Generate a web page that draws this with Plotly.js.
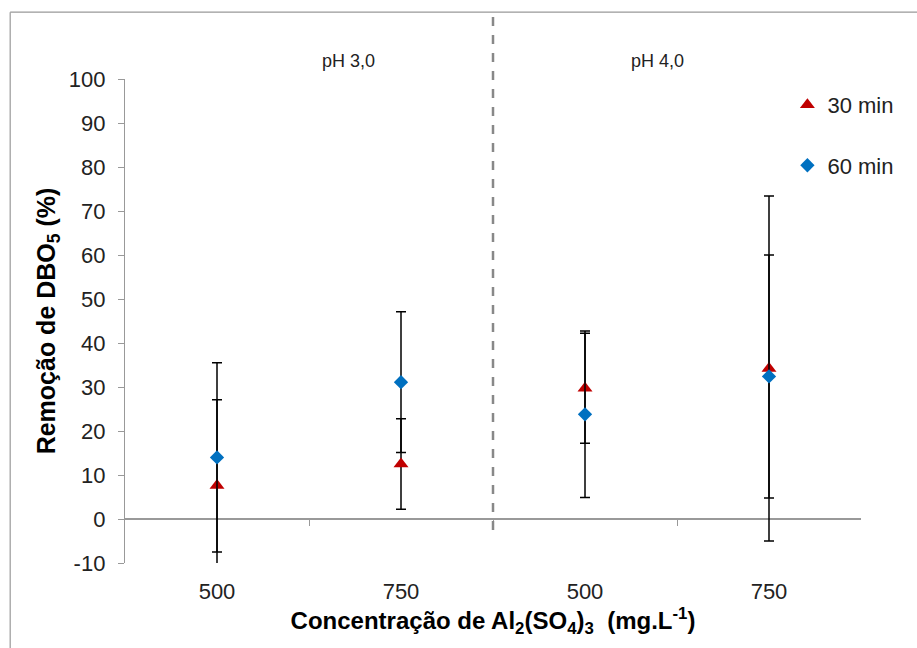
<!DOCTYPE html>
<html>
<head>
<meta charset="utf-8">
<script src="https://cdn.plot.ly/plotly-3.0.1.min.js"></script>
<style>html,body{margin:0;padding:0;background:#fff;}#chart{width:917px;height:648px;}</style>
</head>
<body>
<div id="chart"></div>
<script>
// Data
const positions = [0, 1, 2, 3];
const doseLabels = ["500", "750", "500", "750"];
const phLabels = ["pH 3,0", "pH 4,0"];

const min30 = [7.6, 12.5, 29.7, 34.2];
const min30ErrPlus = [19.5, 10.3, 12.5, 39.2];
const min30ErrMinus = [19.5, 10.3, 12.5, 39.2];

const min60 = [14.0, 31.1, 23.8, 32.4];
const min60ErrPlus = [21.5, 16.0, 18.9, 27.6];
const min60ErrMinus = [21.5, 16.0, 18.9, 27.6];

const yTicks = [-10, 0, 10, 20, 30, 40, 50, 60, 70, 80, 90, 100];
const yTickLabels = ["-10", "0", "10", "20", "30", "40", "50", "60", "70", "80", "90", "100"];

const FONT = "Liberation Sans, Arial, sans-serif";

const traces = [
  {
    x: positions, y: min30, name: "30 min", type: "scatter", mode: "markers",
    legendgroup: "a",
    marker: {symbol: "triangle-up", size: 13, color: "#C00000"},
    error_y: {type: "data", array: min30ErrPlus, arrayminus: min30ErrMinus, symmetric: false,
              color: "#000", thickness: 1.5, width: 5}
  },
  {
    x: positions, y: min60, name: "60 min", type: "scatter", mode: "markers",
    legendgroup: "b",
    marker: {symbol: "diamond", size: 11, color: "#0070C0"},
    error_y: {type: "data", array: min60ErrPlus, arrayminus: min60ErrMinus, symmetric: false,
              color: "#000", thickness: 1.5, width: 5}
  },
  {
    // invisible helper so boundary ticks axis is drawn
    x: [0.5, 1.5, 2.5], y: [null, null, null], xaxis: "x2", yaxis: "y",
    type: "scatter", mode: "markers", showlegend: false, hoverinfo: "skip"
  }
];

const layout = {
  width: 917, height: 648,
  margin: {l: 125, r: 56, t: 79, b: 85},
  paper_bgcolor: "#fff", plot_bgcolor: "#fff",
  font: {family: FONT, size: 22, color: "#222"},
  showlegend: true,
  legend: {
    x: 0.9, y: 0.99, xanchor: "left", yanchor: "top",
    font: {family: FONT, size: 22, color: "#222"},
    tracegroupgap: 29, itemwidth: 30, bgcolor: "rgba(0,0,0,0)"
  },
  xaxis: {
    range: [-0.5, 3.5], tickvals: positions, ticktext: doseLabels,
    showline: false, showgrid: false, zeroline: false,
    ticks: "", ticklabelstandoff: 13,
    tickfont: {family: FONT, size: 22, color: "#222"},
    title: {text: "<b>Concentração de Al<sub>2</sub>(SO<sub>4</sub>)<sub>3</sub>  (mg.L<sup>-1</sup>)</b>",
            font: {family: FONT, size: 24, color: "#000"}, standoff: 7}
  },
  xaxis2: {
    overlaying: "x", anchor: "free", position: 10/110, side: "bottom",
    range: [-0.5, 3.5], tickvals: [0.5, 1.5, 2.5], showticklabels: false,
    ticks: "outside", ticklen: 6, tickcolor: "#999", tickwidth: 1,
    showline: false, showgrid: false, zeroline: false
  },
  yaxis: {
    range: [-10, 100], tickvals: yTicks, ticktext: yTickLabels,
    showline: true, linecolor: "#999", linewidth: 1.2,
    ticks: "outside", ticklen: 6, tickcolor: "#999",
    ticklabelstandoff: 8,
    showgrid: false, zeroline: true, zerolinecolor: "#999", zerolinewidth: 1.5,
    tickfont: {family: FONT, size: 22, color: "#222"},
    title: {text: "<b>Remoção de DBO<sub>5</sub> (%)</b>",
            font: {family: FONT, size: 25, color: "#000"}, standoff: 6}
  },
  shapes: [
    {type: "line", xref: "x", yref: "paper", x0: 1.5, x1: 1.5, y0: 0.068, y1: 1.138,
     line: {color: "#888", width: 2.5, dash: "9px,9px"}},
    {type: "line", xref: "paper", yref: "paper", x0: -0.156, x1: -0.156, y0: -0.3, y1: 1.138,
     line: {color: "#999", width: 1.2}},
    {type: "line", xref: "paper", yref: "paper", x0: -0.156, x1: 1.2, y0: 1.138, y1: 1.138,
     line: {color: "#999", width: 1.2}}
  ],
  annotations: [
    {text: phLabels[0], xref: "paper", yref: "paper", x: 0.265, y: 1.037, yanchor: "middle", showarrow: false,
     font: {family: FONT, size: 18, color: "#222"}},
    {text: phLabels[1], xref: "paper", yref: "paper", x: 0.762, y: 1.037, yanchor: "middle", showarrow: false,
     font: {family: FONT, size: 18, color: "#222"}}
  ]
};

Plotly.newPlot("chart", traces, layout, {displayModeBar: false, staticPlot: true});
</script>
</body>
</html>
